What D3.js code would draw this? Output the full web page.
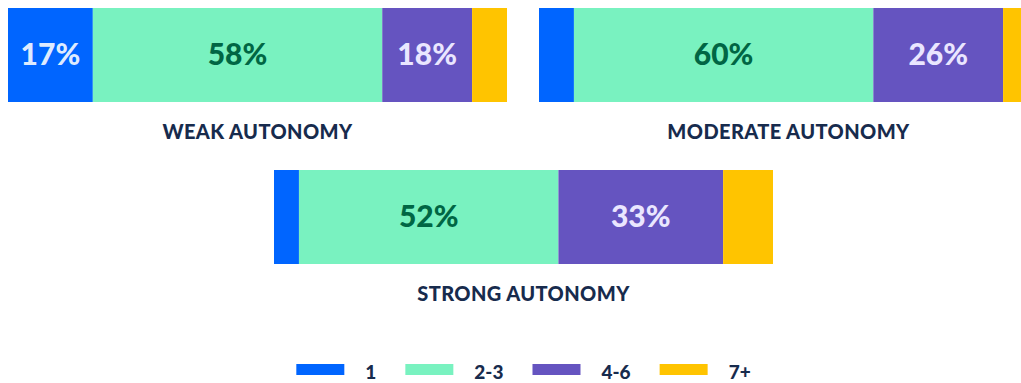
<!DOCTYPE html>
<html>
<head>
<meta charset="utf-8">
<script src="https://cdn.jsdelivr.net/npm/d3@7"></script>
<style>
  html, body { margin: 0; padding: 0; background: #fff; }
  svg { display: block; }
  text { font-family: Lato, "Open Sans", sans-serif; font-weight: 900; }
</style>
</head>
<body>
<svg id="chart" width="1021" height="383"></svg>
<script>
// Share of respondents by team-size bucket, per autonomy level (percent)
const categories = ["1", "2-3", "4-6", "7+"];
const groups = ["WEAK AUTONOMY", "MODERATE AUTONOMY", "STRONG AUTONOMY"];
const weakValues = [17, 58, 18, 7];
const moderateValues = [7, 60, 26, 7];
const strongValues = [5, 52, 33, 10];
const seriesValues = [weakValues, moderateValues, strongValues];

const colors = ["#0065FF", "#79F2C0", "#6554C0", "#FFC400"];
const labelColors = ["#DEEBFF", "#006644", "#EAE6FF", "#172B4D"];
const titleColor = "#172B4D";

const svg = d3.select("#chart");

const barWidth = 499, barHeight = 94;
const x = d3.scaleLinear().domain([0, 100]).range([0, barWidth]);
const color = d3.scaleOrdinal().domain(categories).range(colors);
const labelColor = d3.scaleOrdinal().domain(categories).range(labelColors);

// Panel placement: two bars on top, one centred underneath
const origins = [[8, 8], [539, 8], [274, 170]];

groups.forEach((name, gi) => {
  const vals = seriesValues[gi];
  const ends = d3.cumsum(vals);
  const segs = vals.map((v, i) => ({ cat: categories[i], v, x0: ends[i] - v, x1: ends[i] }));
  const g = svg.append("g").attr("transform", `translate(${origins[gi][0]},${origins[gi][1]})`);

  g.selectAll("rect").data(segs).join("rect")
    .attr("x", d => x(d.x0))
    .attr("width", d => x(d.x1) - x(d.x0))
    .attr("y", 0)
    .attr("height", barHeight)
    .attr("fill", d => color(d.cat));

  g.selectAll("text.val").data(segs.filter(d => d.v > 10)).join("text")
    .attr("class", "val")
    .attr("x", d => (x(d.x0) + x(d.x1)) / 2)
    .attr("y", barHeight / 2 + 9.5)
    .attr("text-anchor", "middle")
    .attr("font-size", 30)
    .attr("fill", d => labelColor(d.cat))
    .text(d => `${d.v}%`);

  g.append("text")
    .attr("x", barWidth / 2)
    .attr("y", barHeight + 37)
    .attr("text-anchor", "middle")
    .attr("font-size", 20)
    .attr("letter-spacing", 0.4)
    .attr("fill", titleColor)
    .text(name);
});

// Legend, centred under the chart
const legend = svg.append("g");
let cursor = 0;
categories.forEach((c, i) => {
  const item = legend.append("g").attr("transform", `translate(${cursor},0)`);
  item.append("rect").attr("x", 0).attr("y", 364).attr("width", 48).attr("height", 11).attr("fill", color(c));
  const t = item.append("text").attr("x", 69).attr("y", 379)
    .attr("font-size", 19).attr("fill", titleColor).text(c);
  cursor += 69 + t.node().getComputedTextLength() + 29;
});
const legendWidth = cursor - 29;
legend.attr("transform", `translate(${523.5 - legendWidth / 2},0)`);
</script>
</body>
</html>
